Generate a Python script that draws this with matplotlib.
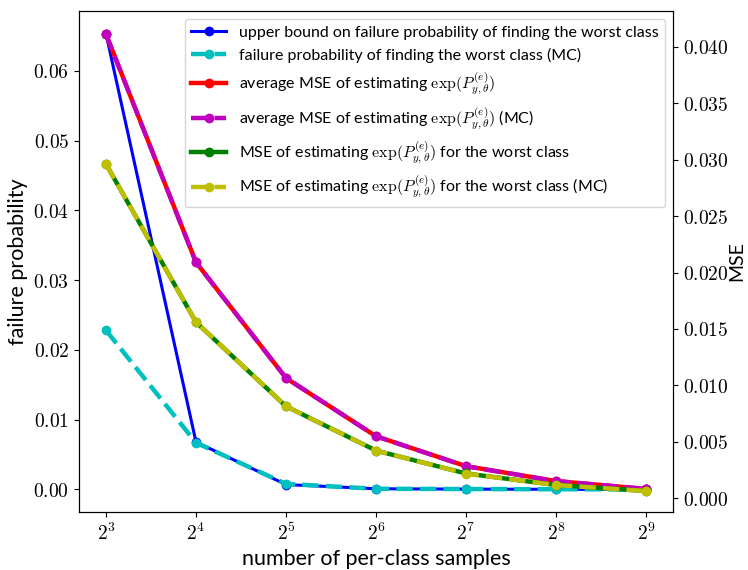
import math
import matplotlib
matplotlib.use("Agg")
import matplotlib.pyplot as plt
from matplotlib.ticker import FuncFormatter, FixedLocator, NullLocator

# Data
n_samples = [8, 16, 32, 64, 128, 256, 512]
fail_bound = [0.0653, 0.0068, 0.0007, 0.0001, 0.00005, 0.00002, 0.0]
fail_mc = [0.0228, 0.0067, 0.0008, 0.0001, 0.00006, 0.00003, 0.0]
mse_avg = [0.0411, 0.0209, 0.01065, 0.0055, 0.00285, 0.00153, 0.00083]
mse_avg_mc = [0.0411, 0.0209, 0.01066, 0.0055, 0.00284, 0.00153, 0.00083]
mse_worst = [0.0296, 0.0156, 0.00815, 0.00423, 0.0022, 0.00118, 0.00065]
mse_worst_mc = [0.0296, 0.0156, 0.00815, 0.00423, 0.00219, 0.00118, 0.00065]

plt.rcParams["mathtext.fontset"] = "cm"
plt.rcParams["font.family"] = ["Lato", "DejaVu Sans"]

EXPR = r"$\exp(P_{y,\theta}^{(e)})$"

fig = plt.figure(figsize=(7.48, 5.70), dpi=100)
ax = fig.add_axes([79 / 748, 1 - 512 / 570, (673 - 79) / 748, (512 - 11) / 570])
ax2 = ax.twinx()

h1, = ax.plot(n_samples, fail_bound, "-o", color="b", lw=2.2, ms=6,
              label="upper bound on failure probability of finding the worst class")
h2, = ax.plot(n_samples, fail_mc, "--o", color="c", lw=3.2, ms=6,
              label="failure probability of finding the worst class (MC)")
h3, = ax2.plot(n_samples, mse_avg, "-o", color="r", lw=3.2, ms=6,
               label="average MSE of estimating " + EXPR)
h4, = ax2.plot(n_samples, mse_avg_mc, "--o", color="m", lw=3.2, ms=6,
               label="average MSE of estimating " + EXPR + " (MC)")
h5, = ax2.plot(n_samples, mse_worst, "-o", color="g", lw=3.2, ms=6,
               label="MSE of estimating " + EXPR + " for the worst class")
h6, = ax2.plot(n_samples, mse_worst_mc, "--o", color="y", lw=3.2, ms=6,
               label="MSE of estimating " + EXPR + " for the worst class (MC)")

ax.set_xscale("log", base=2)
ax.xaxis.set_major_locator(FixedLocator(n_samples))
ax.xaxis.set_minor_locator(NullLocator())
ax.xaxis.set_major_formatter(FuncFormatter(lambda v, p: r"$2^{%d}$" % round(math.log2(v))))

ax.set_ylim(-0.00323, 0.06857)
ax2.set_ylim(-0.00121, 0.04316)
ax.set_yticks([0.0, 0.01, 0.02, 0.03, 0.04, 0.05, 0.06])
ax2.set_yticks([0.0, 0.005, 0.01, 0.015, 0.02, 0.025, 0.03, 0.035, 0.04])
ax.yaxis.set_major_formatter(FuncFormatter(lambda v, p: r"$%.2f$" % v))
ax2.yaxis.set_major_formatter(FuncFormatter(lambda v, p: r"$%.3f$" % v))

ax.tick_params(labelsize=14)
ax2.tick_params(labelsize=14)

ax.set_xlabel("number of per-class samples", fontsize=15.5)
ax.set_ylabel("failure probability", fontsize=15.5)
ax2.set_ylabel("MSE", fontsize=14, labelpad=0)

ax2.legend(handles=[h1, h2, h3, h4, h5, h6], loc="upper right", fontsize=11.5,
           handlelength=2.2, labelspacing=0.5)

fig.savefig("out.png", dpi=100)
